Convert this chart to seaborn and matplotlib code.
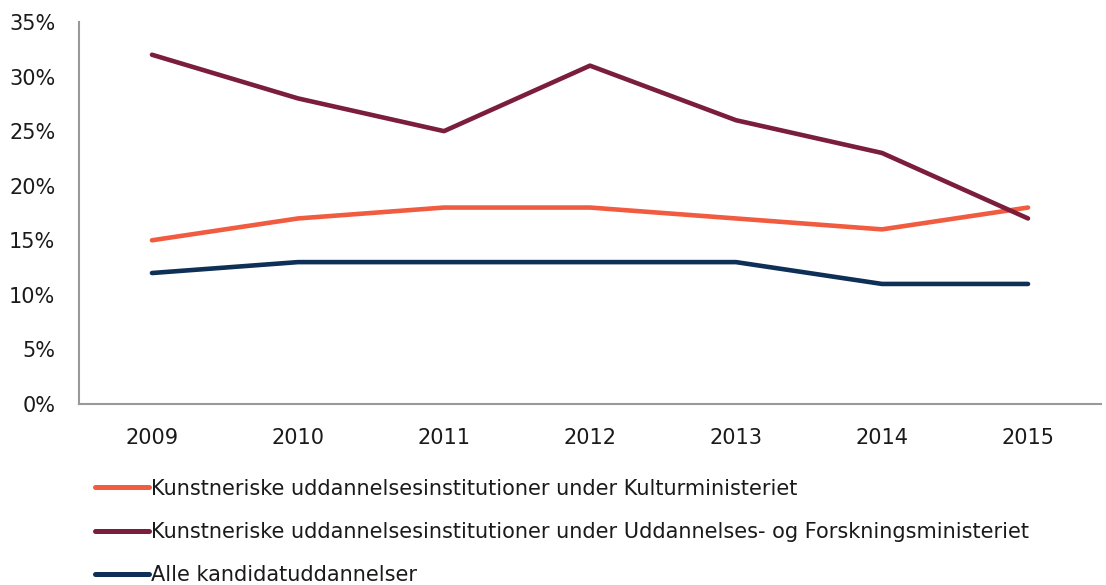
import matplotlib
matplotlib.use("Agg")
import matplotlib.pyplot as plt
import seaborn as sns
import pandas as pd
from matplotlib.ticker import FuncFormatter

years = ["2009", "2010", "2011", "2012", "2013", "2014", "2015"]
kultur = [15, 17, 18, 18, 17, 16, 18]
ufm = [32, 28, 25, 31, 26, 23, 17]
alle = [12, 13, 13, 13, 13, 11, 11]
series_names = [
    "Kunstneriske uddannelsesinstitutioner under Kulturministeriet",
    "Kunstneriske uddannelsesinstitutioner under Uddannelses- og Forskningsministeriet",
    "Alle kandidatuddannelser",
]
colors = ["#F15B40", "#7A1E3C", "#0E2F56"]

rows = []
for name, vals in zip(series_names, [kultur, ufm, alle]):
    for y, v in zip(years, vals):
        rows.append({"year": y, "value": v, "series": name})
df = pd.DataFrame(rows)

sns.set_theme(style="white")
plt.rcParams["font.family"] = ["DejaVu Sans"]

fig = plt.figure(figsize=(11.06, 5.85), dpi=100)
ax = fig.add_axes([0.0714, 0.3094, 0.9241, 0.653])
sns.lineplot(data=df, x="year", y="value", hue="series", palette=colors,
             linewidth=3.3, ax=ax, sort=False, legend=True)
for ln in ax.get_lines():
    ln.set_solid_capstyle("round")
    ln.set_solid_joinstyle("round")

ax.set_xlim(-0.5, 6.5)
ax.set_ylim(0, 35)
ax.set_yticks(range(0, 36, 5))
ax.yaxis.set_major_formatter(FuncFormatter(lambda v, p: f"{int(v)}%"))
ax.set_xlabel("")
ax.set_ylabel("")
ax.tick_params(axis="both", length=0, labelsize=15, colors="#1a1a1a")
ax.tick_params(axis="x", pad=17)
ax.tick_params(axis="y", pad=17)
for s in ["top", "right"]:
    ax.spines[s].set_visible(False)
for s in ["left", "bottom"]:
    ax.spines[s].set_color("#999999")
    ax.spines[s].set_linewidth(1.5)

handles, labels = ax.get_legend_handles_labels()
ax.get_legend().remove()
for h in handles:
    h.set_linewidth(3.6)
    h.set_solid_capstyle("round")
fig.legend(handles, labels, loc="upper left", bbox_to_anchor=(0.078, 0.196),
           frameon=False, fontsize=15, handlelength=2.6, handletextpad=0.12,
           labelspacing=1.12, borderaxespad=0, labelcolor="#1a1a1a")

fig.savefig("out.png", dpi=100)
